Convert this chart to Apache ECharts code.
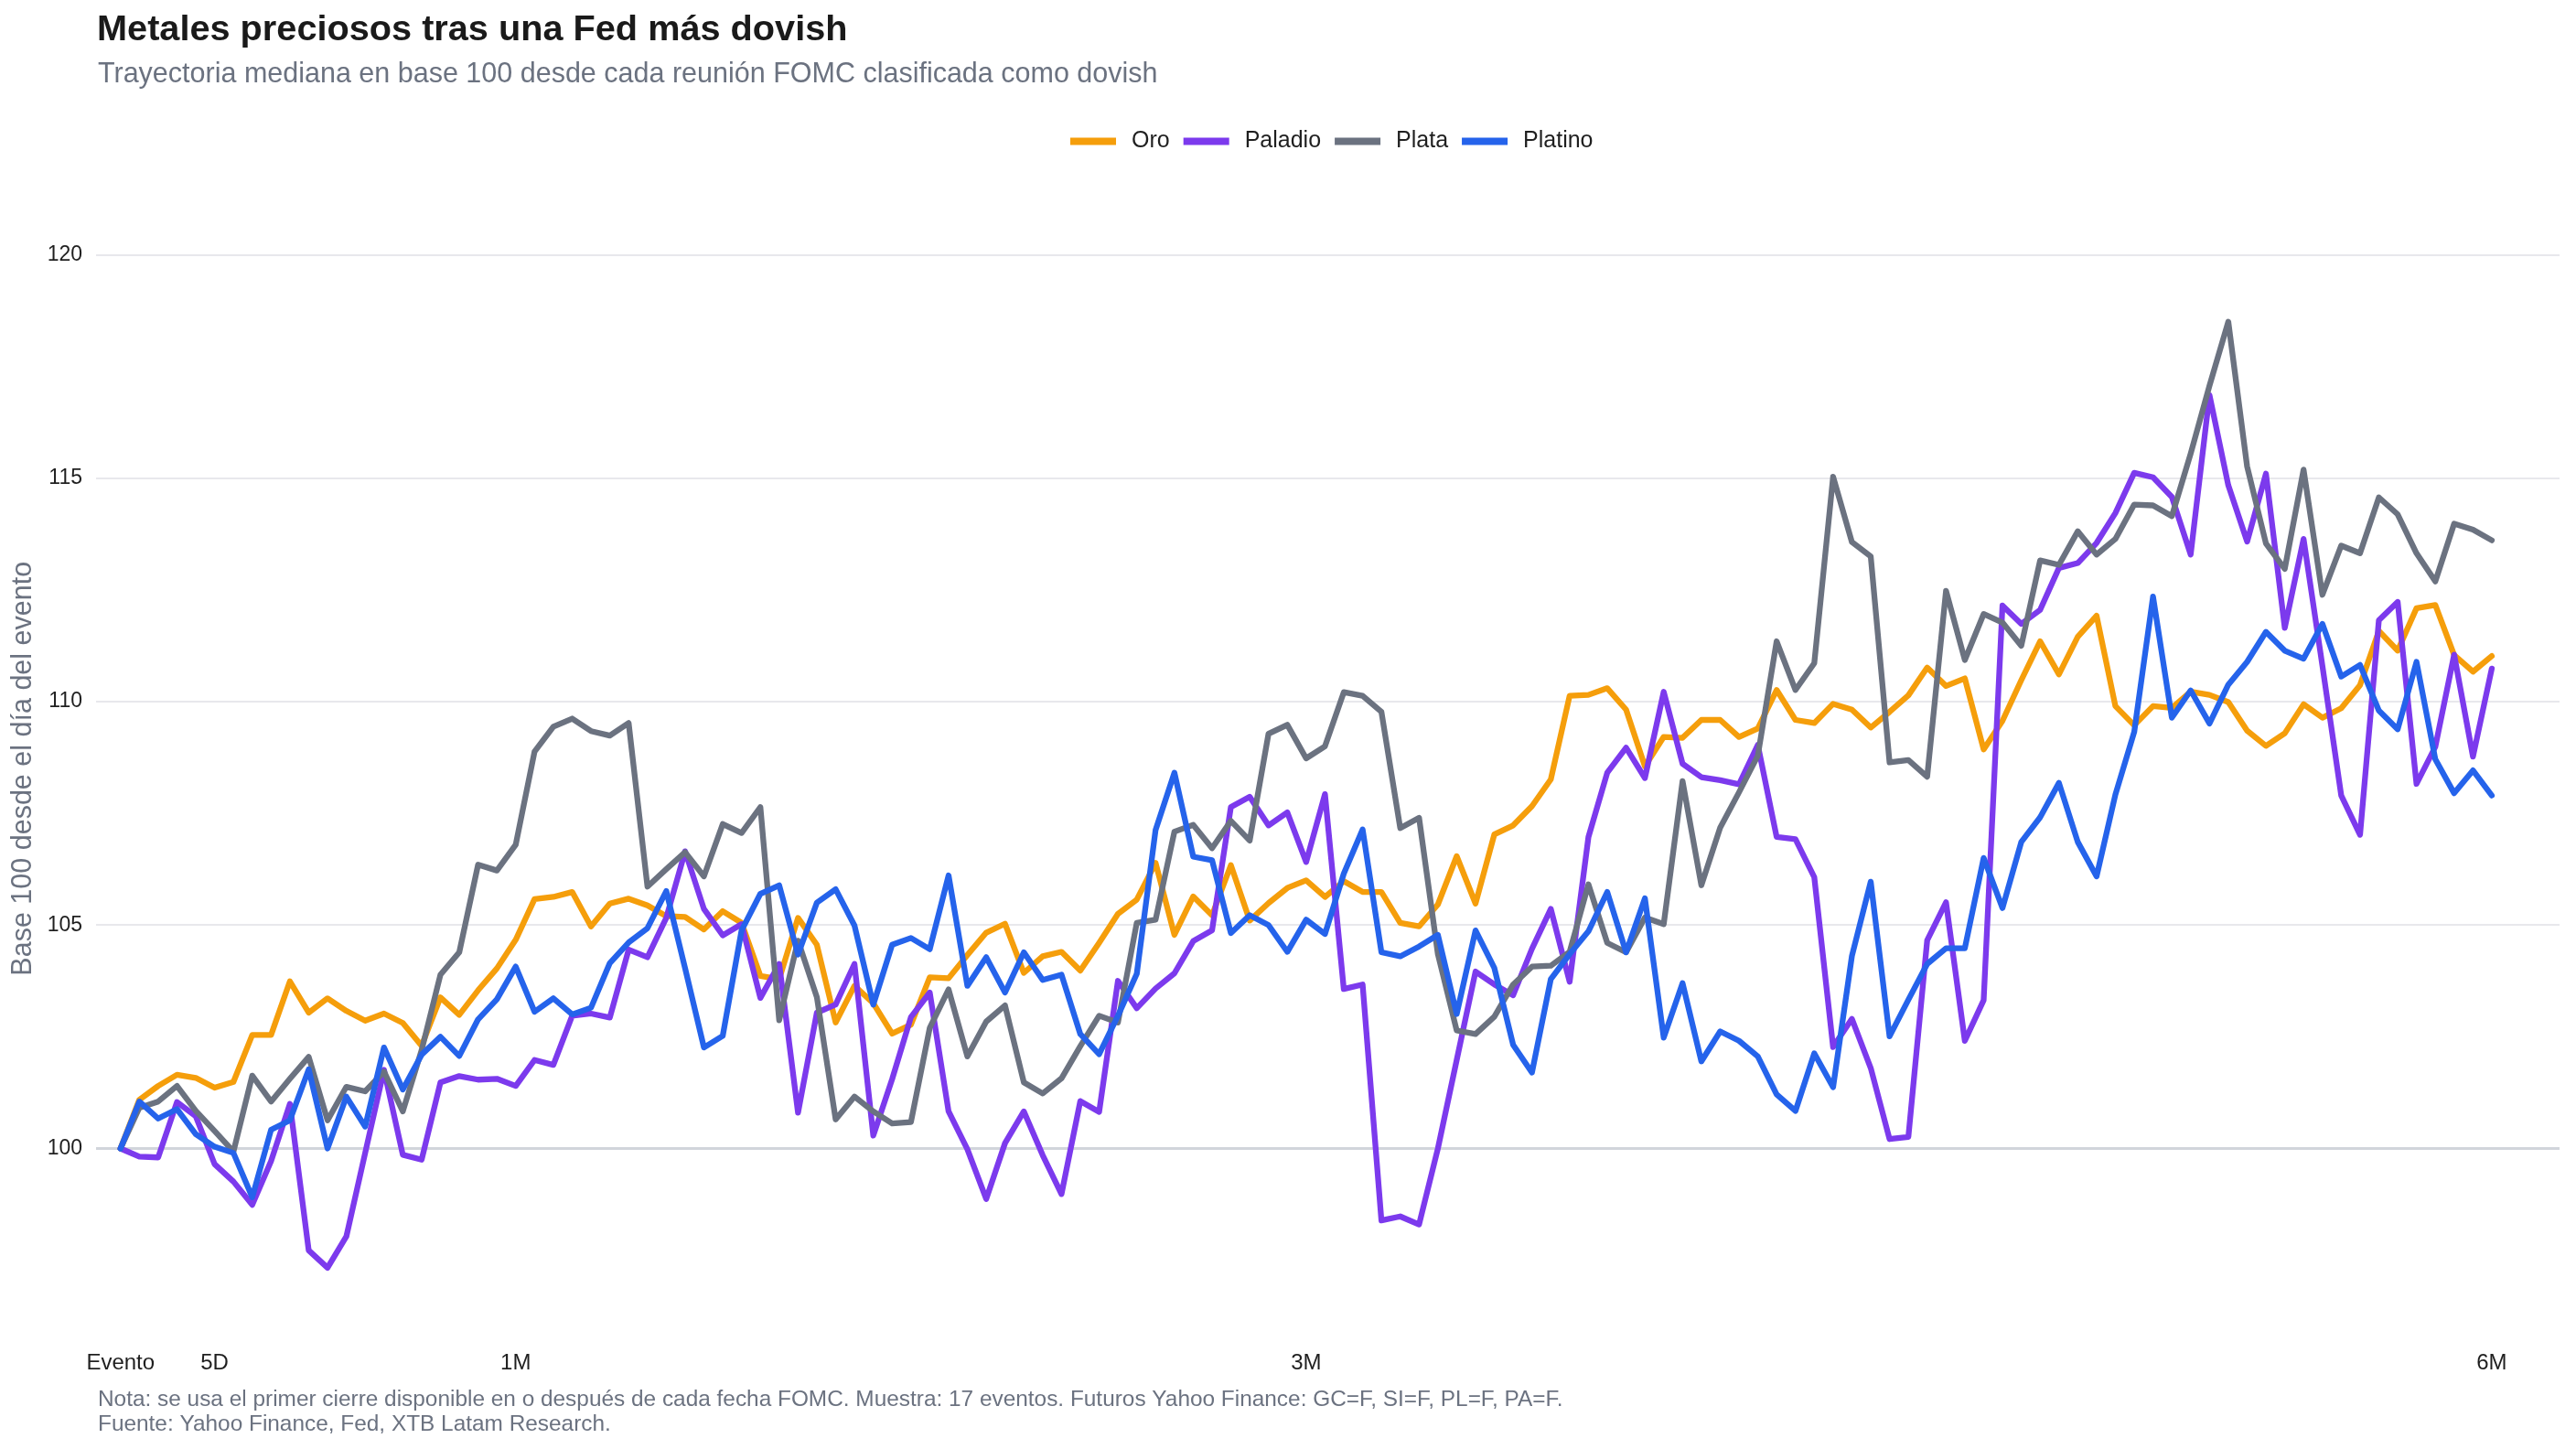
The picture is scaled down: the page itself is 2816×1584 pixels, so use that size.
<!DOCTYPE html>
<html>
<head>
<meta charset="utf-8">
<script src="https://cdn.jsdelivr.net/npm/echarts@6/dist/echarts.min.js"></script>
<style>
html,body{margin:0;padding:0;background:#ffffff;}
#chart{width:2816px;height:1584px;}
</style>
</head>
<body>
<div id="chart"></div>
<script>
// ---- data (median path, base 100, trading days after FOMC event) ----
const seriesNames = ['Oro', 'Paladio', 'Plata', 'Platino'];
const seriesColors = ['#f59e0b', '#7c3aed', '#6b7280', '#2563eb'];

const oro = [100,101.09,101.4,101.65,101.58,101.36,101.49,102.54,102.54,103.74,103.04,103.36,103.08,102.86,103.02,102.81,102.3,103.38,102.99,103.54,104.03,104.67,105.58,105.63,105.74,104.97,105.48,105.59,105.44,105.2,105.18,104.9,105.31,105.05,103.86,103.79,105.16,104.56,102.82,103.64,103.25,102.57,102.77,103.83,103.81,104.33,104.83,105.03,103.93,104.3,104.4,103.98,104.6,105.25,105.57,106.39,104.78,105.64,105.22,106.34,105.1,105.49,105.83,106.0,105.63,105.98,105.74,105.74,105.05,104.97,105.46,106.54,105.48,107.03,107.23,107.66,108.26,110.13,110.15,110.3,109.82,108.55,109.21,109.19,109.59,109.59,109.21,109.4,110.26,109.59,109.52,109.95,109.82,109.42,109.77,110.14,110.76,110.35,110.52,108.93,109.57,110.48,111.35,110.61,111.45,111.92,109.9,109.47,109.9,109.86,110.22,110.15,109.99,109.35,109.01,109.29,109.94,109.64,109.85,110.37,111.58,111.14,112.09,112.16,111.04,110.67,111.02];

const paladio = [100,99.82,99.8,101.04,100.72,99.65,99.26,98.74,99.72,101.0,97.72,97.33,98.03,99.9,101.76,99.86,99.75,101.48,101.62,101.54,101.56,101.4,101.98,101.87,102.97,103.02,102.93,104.45,104.28,105.16,106.65,105.36,104.77,105.02,103.37,104.13,100.8,103.04,103.22,104.13,100.29,101.55,102.94,103.49,100.83,99.98,98.87,100.12,100.83,99.85,98.98,101.06,100.82,103.75,103.14,103.58,103.92,104.64,104.88,107.64,107.87,107.23,107.52,106.41,107.93,103.57,103.67,98.39,98.48,98.3,100.0,101.98,103.96,103.67,103.43,104.47,105.36,103.73,106.97,108.41,108.97,108.29,110.22,108.61,108.31,108.24,108.15,109.03,106.97,106.92,106.07,102.27,102.9,101.8,100.21,100.26,104.66,105.51,102.41,103.32,112.15,111.74,112.05,112.99,113.1,113.55,114.22,115.12,115.02,114.58,113.29,116.86,114.84,113.58,115.1,111.65,113.64,110.8,107.9,107.02,111.82,112.23,108.16,108.99,111.05,108.77,110.74];

const plata = [100,100.91,101.05,101.4,100.84,100.39,99.93,101.63,101.05,101.56,102.05,100.63,101.38,101.28,101.72,100.83,102.2,103.89,104.39,106.35,106.22,106.8,108.88,109.44,109.62,109.34,109.24,109.52,105.86,106.25,106.63,106.09,107.26,107.06,107.64,102.87,104.65,103.39,100.65,101.16,100.83,100.56,100.59,102.7,103.56,102.06,102.84,103.2,101.48,101.23,101.57,102.29,102.97,102.82,105.05,105.12,107.09,107.24,106.72,107.33,106.89,109.28,109.48,108.73,109.0,110.21,110.13,109.77,107.17,107.4,104.35,102.64,102.56,102.95,103.67,104.07,104.09,104.4,105.91,104.6,104.39,105.17,105.02,108.22,105.89,107.18,107.97,108.79,111.35,110.26,110.86,115.03,113.57,113.25,108.64,108.69,108.32,112.48,110.93,111.96,111.77,111.25,113.16,113.06,113.81,113.29,113.64,114.41,114.39,114.15,115.55,117.07,118.5,115.26,113.54,112.97,115.19,112.39,113.49,113.32,114.57,114.19,113.32,112.69,113.98,113.85,113.61];

const platino = [100,101.05,100.67,100.88,100.32,100.04,99.9,98.91,100.42,100.63,101.77,100.0,101.16,100.49,102.26,101.32,102.1,102.5,102.07,102.89,103.34,104.07,103.06,103.36,103.0,103.15,104.15,104.61,104.93,105.76,104.03,102.26,102.52,104.88,105.7,105.89,104.34,105.5,105.8,104.99,103.22,104.56,104.71,104.46,106.11,103.64,104.28,103.49,104.39,103.77,103.89,102.56,102.11,102.97,103.91,107.13,108.41,106.53,106.45,104.82,105.22,105.0,104.4,105.12,104.8,106.15,107.14,104.39,104.3,104.52,104.78,103.01,104.88,104.04,102.32,101.7,103.79,104.35,104.86,105.74,104.39,105.6,102.48,103.7,101.95,102.62,102.41,102.06,101.21,100.84,102.13,101.37,104.31,105.97,102.51,103.33,104.13,104.48,104.48,106.5,105.38,106.86,107.41,108.18,106.86,106.09,107.92,109.32,112.35,109.64,110.25,109.51,110.38,110.89,111.56,111.14,110.96,111.74,110.56,110.82,109.8,109.38,110.89,108.71,107.95,108.46,107.9];

const xTickValues = [0, 5, 21, 63, 126];
const xTickLabels = ['Evento', '5D', '1M', '3M', '6M'];
const yTickValues = [100, 105, 110, 115, 120];

const titleText = 'Metales preciosos tras una Fed más dovish';
const subtitleText = 'Trayectoria mediana en base 100 desde cada reunión FOMC clasificada como dovish';
const yAxisName = 'Base 100 desde el día del evento';
const noteText = 'Nota: se usa el primer cierre disponible en o después de cada fecha FOMC. Muestra: 17 eventos. Futuros Yahoo Finance: GC=F, SI=F, PL=F, PA=F.';
const sourceText = 'Fuente: Yahoo Finance, Fed, XTB Latam Research.';

// ---- build ----
const FONT = '"Liberation Sans", Arial, Helvetica, sans-serif';
const allValues = [oro, paladio, plata, platino];
const Y_MIN = 96, Y_MAX = 121;
const gridColors = [];
for (let v = Y_MIN; v <= Y_MAX; v++) {
  if (v === 100) gridColors.push('#d1d5db');
  else if (yTickValues.indexOf(v) >= 0) gridColors.push('#e8e8ec');
  else gridColors.push('rgba(0,0,0,0)');
}

const series = seriesNames.map((name, k) => ({
  name: name,
  type: 'line',
  data: allValues[k].map((v, i) => [i, v]),
  showSymbol: false,
  symbol: 'none',
  smooth: false,
  z: 2 + k,
  lineStyle: { color: seriesColors[k], width: 6.3, cap: 'round', join: 'round' },
  itemStyle: { color: seriesColors[k] },
  emphasis: { disabled: true },
  markLine: k === 0 ? {
    silent: true, symbol: 'none', label: { show: false },
    lineStyle: { color: '#d1d5db', width: 3, type: 'solid' },
    data: [{ yAxis: 100 }],
    z: 1
  } : undefined
}));

const chart = echarts.init(document.getElementById('chart'), null, { renderer: 'canvas' });
chart.setOption({
  animation: false,
  backgroundColor: '#ffffff',
  textStyle: { fontFamily: FONT },
  title: [
    { text: titleText, left: 101, top: 8,
      textStyle: { fontFamily: FONT, fontSize: 39.7, fontWeight: 'bold', color: '#1a1a1a' } },
    { text: subtitleText, left: 102, top: 61,
      textStyle: { fontFamily: FONT, fontSize: 30.5, fontWeight: 'normal', color: '#6b7280' } },
    { text: noteText, left: 102, top: 1513,
      textStyle: { fontFamily: FONT, fontSize: 24.4, fontWeight: 'normal', color: '#6b7280' } },
    { text: sourceText, left: 102, top: 1540,
      textStyle: { fontFamily: FONT, fontSize: 24.4, fontWeight: 'normal', color: '#6b7280' } }
  ],
  legend: {
    data: seriesNames,
    left: 1165, top: 137,
    icon: 'rect', itemWidth: 50, itemHeight: 8, itemGap: 15,
    textStyle: { fontFamily: FONT, fontSize: 25, color: '#1f1f1f', padding: [0, 0, 0, 12] }
  },
  grid: { left: 105, right: 18, top: 229.6, bottom: 133.1, containLabel: false },
  xAxis: {
    type: 'value', min: -1.3, max: 129.6,
    axisLine: { show: false }, axisTick: { show: false }, splitLine: { show: false },
    axisLabel: {
      customValues: xTickValues,
      formatter: function (v) { const idx = xTickValues.indexOf(Math.round(v)); return idx >= 0 ? xTickLabels[idx] : ''; },
      fontFamily: FONT, fontSize: 24, color: '#1f1f1f', margin: 27
    }
  },
  yAxis: {
    type: 'value', min: Y_MIN, max: Y_MAX, interval: 1,
    name: yAxisName, nameLocation: 'middle', nameGap: 61,
    nameTextStyle: { fontFamily: FONT, fontSize: 30.5, color: '#6b7280' },
    axisLine: { show: false }, axisTick: { show: false },
    splitLine: { show: true, lineStyle: { color: gridColors, width: 2 } },
    axisLabel: {
      formatter: function (v) { return yTickValues.indexOf(Math.round(v * 1000) / 1000) >= 0 ? String(v) : ''; },
      fontFamily: FONT, fontSize: 23, color: '#1f1f1f', margin: 15
    }
  },
  series: series
});
</script>
</body>
</html>
